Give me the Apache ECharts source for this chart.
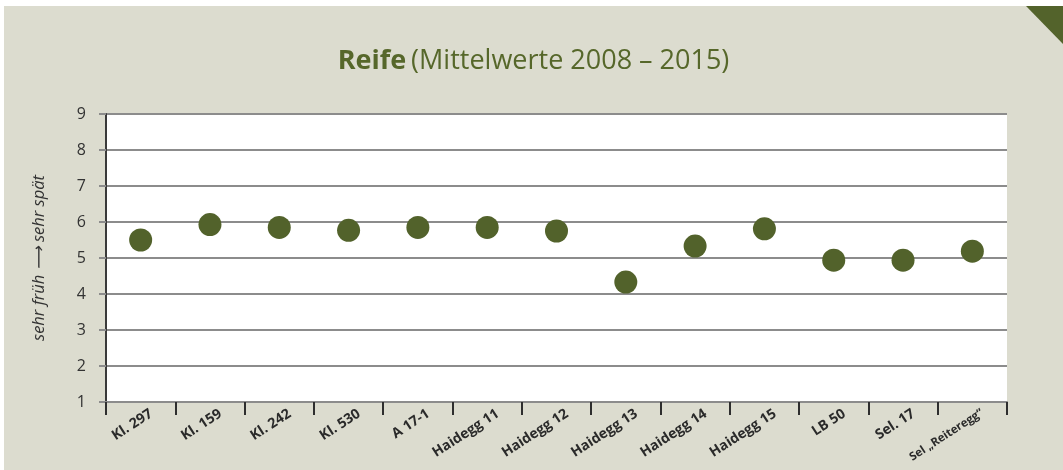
<!DOCTYPE html>
<html>
<head>
<meta charset="utf-8">
<script src="https://cdn.jsdelivr.net/npm/echarts@6/dist/echarts.min.js"></script>
<style>
  html, body { margin: 0; padding: 0; background: #ffffff; }
  #chart { position: absolute; left: 4px; top: 6px; width: 1059px; height: 464px; }
</style>
</head>
<body>
<div id="chart"></div>
<script>
// Sorten / Selektionen
const categories = [
  'Kl. 297', 'Kl. 159', 'Kl. 242', 'Kl. 530', 'A 17-1',
  'Haidegg 11', 'Haidegg 12', 'Haidegg 13', 'Haidegg 14', 'Haidegg 15',
  'LB 50', 'Sel. 17', 'Sel \u201EReiteregg\u201C'
];
// Reife-Boniturwerte (1 = sehr früh … 9 = sehr spät), Mittel 2008–2015
const reife = [5.50, 5.93, 5.85, 5.77, 5.85, 5.85, 5.75, 4.33, 5.33, 5.81, 4.94, 4.94, 5.19];
const yTicks = [1, 2, 3, 4, 5, 6, 7, 8, 9];

const olive = '#52622b';
const chart = echarts.init(document.getElementById('chart'));

chart.setOption({
  backgroundColor: '#dcdccf',
  animation: false,
  title: {
    text: '{b|Reife} {n|(Mittelwerte 2008 \u2013 2015)}',
    left: 'center',
    top: 37,
    textStyle: {
      rich: {
        b: { fontFamily: 'Open Sans', fontSize: 27, fontWeight: 'bold', color: '#56672a' },
        n: { fontFamily: 'Open Sans', fontSize: 27, fontWeight: 'normal', color: '#56672a' }
      }
    }
  },
  graphic: [{
    type: 'polygon',
    shape: { points: [[1022, 0], [1059, 0], [1059, 38]] },
    style: { fill: '#53632b' }
  }],
  grid: { left: 102, right: 56, top: 108, bottom: 68, show: true, backgroundColor: '#ffffff', borderWidth: 0 },
  xAxis: {
    type: 'category',
    data: categories,
    boundaryGap: true,
    axisLine: { show: true, lineStyle: { color: '#8c8c8c', width: 2 } },
    axisTick: { show: true, interval: 0, length: 13, lineStyle: { color: '#2e2e2e', width: 2 } },
    axisLabel: {
      interval: 0,
      rotate: 33,
      margin: 9,
      verticalAlign: 'top',
      padding: [0, -8, 0, 0],
      fontFamily: 'Open Sans',
      fontSize: 14,
      fontWeight: 'bold',
      color: '#2a2a2a',
      formatter: function (v, i) {
        return i === categories.length - 1 ? '{s|' + v + '}' : v;
      },
      rich: {
        s: { fontFamily: 'Open Sans', fontSize: 11.5, fontWeight: 'bold', color: '#2a2a2a' }
      }
    },
    splitLine: { show: false }
  },
  yAxis: {
    type: 'value',
    min: yTicks[0],
    max: yTicks[yTicks.length - 1],
    interval: 1,
    name: 'sehr fr\u00FCh \u27F6 sehr sp\u00E4t',
    nameLocation: 'middle',
    nameGap: 58,
    nameRotate: 90,
    nameTextStyle: { fontFamily: 'Open Sans', fontStyle: 'italic', fontSize: 16.5, color: '#333333' },
    axisLine: { show: true, lineStyle: { color: '#3a3a3a', width: 2 } },
    axisTick: { show: true, length: 7, lineStyle: { color: '#8c8c8c', width: 2 } },
    axisLabel: { margin: 20, fontFamily: 'Open Sans', fontSize: 16, color: '#333333' },
    splitLine: { show: true, lineStyle: { color: '#8c8c8c', width: 2 } }
  },
  series: [{
    type: 'scatter',
    data: reife,
    symbol: 'circle',
    symbolSize: 23,
    itemStyle: { color: olive, opacity: 1 },
    z: 5
  }]
});
</script>
</body>
</html>
